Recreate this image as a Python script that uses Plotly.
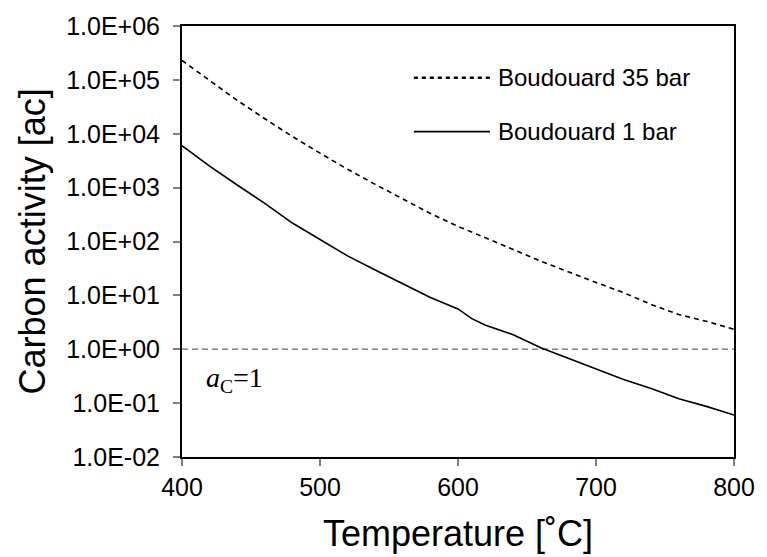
import plotly.graph_objects as go

# Temperature grid [°C]
temperature = [400, 420, 440, 460, 480, 500, 520, 540, 560, 580, 600,
               610, 620, 640, 660, 680, 700, 720, 740, 760, 780, 800]

# Carbon activity for the Boudouard reaction at 1 bar
ac_1bar = [6000, 2500, 1120, 510, 220, 107, 54, 29.5, 16.6, 9.1, 5.6,
           3.7, 2.8, 1.86, 1.07, 0.68, 0.43, 0.275, 0.186, 0.12, 0.087, 0.060]

# Carbon activity for the Boudouard reaction at 35 bar
ac_35bar = [229000, 98000, 41700, 19000, 8900, 4360, 2190, 1150, 617, 331,
            191, 148, 115, 71, 43, 27, 17.4, 11.2, 6.8, 4.4, 3.3, 2.35]

# Reference level a_C = 1
ref_x = [400, 800]
ref_y = [1, 1]

y_tickvals = [1e-2, 1e-1, 1e0, 1e1, 1e2, 1e3, 1e4, 1e5, 1e6]
y_ticktext = ["1.0E-02", "1.0E-01", "1.0E+00", "1.0E+01", "1.0E+02",
              "1.0E+03", "1.0E+04", "1.0E+05", "1.0E+06"]
x_tickvals = [400, 500, 600, 700, 800]

legend_names = ["Boudouard 35 bar", "Boudouard 1 bar"]

SANS = "Liberation Sans, Arial, sans-serif"
SERIF = "Liberation Serif, Times New Roman, serif"

fig = go.Figure()

fig.add_trace(go.Scatter(
    x=ref_x, y=ref_y, mode="lines",
    line=dict(color="#808080", width=1.5, dash="6px,4px"),
    showlegend=False, hoverinfo="skip"))

fig.add_trace(go.Scatter(
    x=temperature, y=ac_35bar, mode="lines", name=legend_names[0],
    line=dict(color="black", width=1.6, dash="5px,4px"),
    showlegend=False))

fig.add_trace(go.Scatter(
    x=temperature, y=ac_1bar, mode="lines", name=legend_names[1],
    line=dict(color="black", width=1.6),
    showlegend=False))

# Hand-drawn legend in the upper right of the plot area
legend_rows = [
    dict(y=0.880, dash="4px,4px", width=2.5),
    dict(y=0.755, dash="solid", width=1.6),
]
for row, name in zip(legend_rows, legend_names):
    fig.add_shape(type="line", xref="paper", yref="paper",
                  x0=0.420, x1=0.558, y0=row["y"], y1=row["y"],
                  line=dict(color="black", width=row["width"], dash=row["dash"]))
    fig.add_annotation(xref="paper", yref="paper", x=0.568, y=row["y"],
                       text=name, showarrow=False, xanchor="left",
                       yanchor="middle",
                       font=dict(family=SANS, size=24, color="black"))

# a_C = 1 label
fig.add_annotation(xref="paper", yref="paper", x=0.040, y=0.180,
                   text="<i>a</i><sub>C</sub>=1", showarrow=False,
                   xanchor="left", yanchor="middle",
                   font=dict(family=SERIF, size=28, color="black"))

# Axis titles
fig.add_annotation(xref="paper", yref="paper", x=0.5, y=-0.178,
                   text="Temperature [˚C]", showarrow=False,
                   xanchor="center", yanchor="middle",
                   font=dict(family=SANS, size=36, color="black"))
fig.add_annotation(xref="paper", yref="paper", x=-0.270, y=0.5,
                   text="Carbon activity [ac]", showarrow=False,
                   textangle=-90, xanchor="center", yanchor="middle",
                   font=dict(family=SANS, size=36, color="black"))

fig.update_xaxes(
    range=[400, 800], tickvals=x_tickvals,
    showline=True, linecolor="black", linewidth=2, mirror=True,
    ticks="outside", ticklen=7, tickcolor="#808080", tickwidth=1.5,
    tickfont=dict(family=SANS, size=25, color="black"),
    showgrid=False, zeroline=False)

fig.update_yaxes(
    type="log", range=[-2, 6], tickvals=y_tickvals, ticktext=y_ticktext,
    showline=True, linecolor="black", linewidth=2, mirror=True,
    ticks="outside", ticklen=7, tickcolor="#808080", tickwidth=1.5,
    ticklabelstandoff=8,
    tickfont=dict(family=SANS, size=25, color="black"),
    showgrid=False, zeroline=False)

fig.update_layout(
    width=767, height=557,
    margin=dict(l=182, r=24, t=24, b=100),
    paper_bgcolor="white", plot_bgcolor="white",
    font=dict(family=SANS, color="black"),
    showlegend=False)

fig.write_html("out.html")
